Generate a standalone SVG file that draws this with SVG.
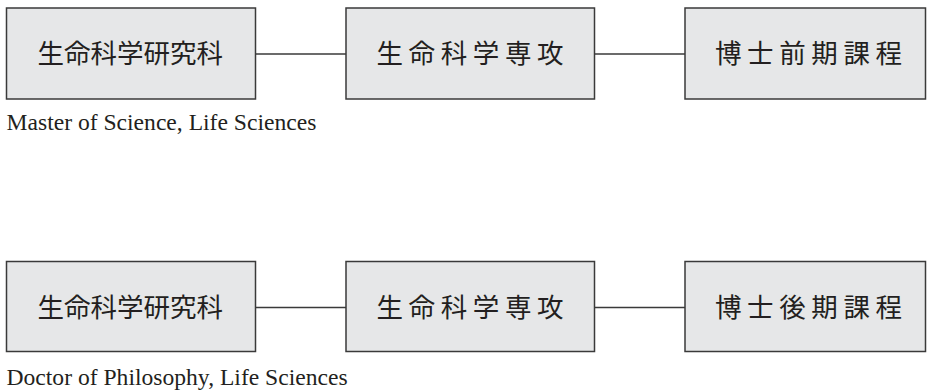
<svg xmlns="http://www.w3.org/2000/svg" width="927" height="392" viewBox="0 0 927 392">
<style>
.box{fill:#e6e7e8;stroke:#3a3a3a;stroke-width:1.5}
.jp{font-family:"Noto Sans CJK JP","Noto Sans CJK SC",sans-serif;font-size:26.5px;fill:#231f20}
.sp{letter-spacing:5.6px}
.en{font-family:"Liberation Serif",serif;font-size:23.6px;fill:#231f20}
.ln{stroke:#3a3a3a;stroke-width:1.5;fill:none}
</style>
<rect width="927" height="392" fill="#ffffff"/>
<g id="connectors">
<line class="ln" x1="255.5" y1="54" x2="346" y2="54"/>
<line class="ln" x1="594.5" y1="54" x2="685" y2="54"/>
<line class="ln" x1="255.5" y1="307.5" x2="346" y2="307.5"/>
<line class="ln" x1="594.5" y1="307.5" x2="685" y2="307.5"/>
</g>
<g id="n1"><rect class="box" x="6.5" y="8" width="249" height="91"/><text class="jp" x="37.5" y="63">生命科学研究科</text></g>
<g id="n2"><rect class="box" x="346" y="8" width="248.5" height="91"/><text class="jp sp" x="376.5" y="63">生命科学専攻</text></g>
<g id="n3"><rect class="box" x="685" y="8" width="240.5" height="91"/><text class="jp sp" x="715" y="63">博士前期課程</text></g>
<text id="t1" class="en" x="6.5" y="130">Master of Science, Life Sciences</text>
<g id="n4"><rect class="box" x="6.5" y="261.5" width="249" height="90"/><text class="jp" x="37.5" y="316.5">生命科学研究科</text></g>
<g id="n5"><rect class="box" x="346" y="261.5" width="248.5" height="90"/><text class="jp sp" x="376.5" y="316.5">生命科学専攻</text></g>
<g id="n6"><rect class="box" x="685" y="261.5" width="240.5" height="90"/><text class="jp sp" x="715" y="316.5">博士後期課程</text></g>
<text id="t2" class="en" x="6.5" y="385">Doctor of Philosophy, Life Sciences</text>
</svg>
